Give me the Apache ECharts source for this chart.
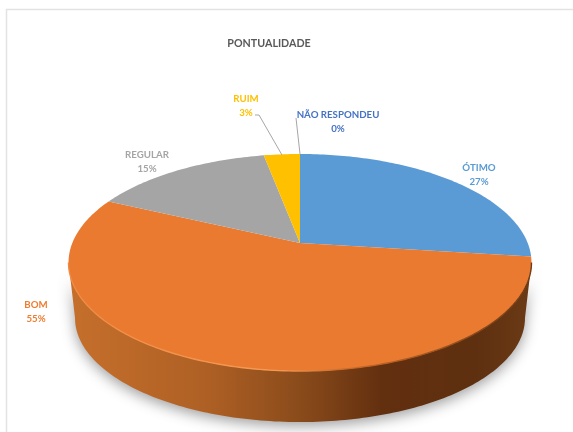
<!DOCTYPE html>
<html>
<head>
<meta charset="utf-8">
<style>html,body{margin:0;padding:0;background:#fff}#c{width:573px;height:432px}</style>
<script src="https://cdn.jsdelivr.net/npm/echarts@6/dist/echarts.min.js"></script>
</head>
<body>
<div id="c"></div>
<script>
const categories = ['ÓTIMO', 'BOM', 'REGULAR', 'RUIM', 'NÃO RESPONDEU'];
const values = [27, 55, 15, 3, 0];
const titleText = 'PONTUALIDADE';

const colors = ['#5B9BD5', '#E97A2F', '#A5A5A5', '#FFC000', '#4472C4'];
const labelColors = ['#5B9BD5', '#ED7D31', '#A5A5A5', '#FFC000', '#4472C4'];
const labelAt = [[479, 175], [36, 312], [147, 162], [246, 106], [338, 122]];
const leaders = [null, null, null, [[255, 115], [259, 115], [282, 155]], [[296, 118], [300, 154]]];
const FONT = 'bold 9.7px Lato, "Noto Sans", sans-serif';

// Tilted-disc projection
const view = { cx: 300, apexY: 243, k: 0.18, sx: 227.7, sy: 105, ecy: 262.5, depthCy: 318, rxRatio: 225 / 231.5, ryRatio: 104 / 108.5 };
function topPoint(deg) {
  const t = deg * Math.PI / 180, a = Math.sin(t), b = Math.cos(t), w = 1 + view.k * b;
  return [view.cx + view.sx * a / w, view.apexY - view.sy * b / w];
}
function bottomPoint(deg) {
  const p = topPoint(deg);
  return [view.cx + (p[0] - view.cx) * view.rxRatio, view.depthCy + (p[1] - view.ecy) * view.ryRatio];
}
function arc(fn, from, to) {
  const pts = [];
  for (let d = from; d < to; d += 1) pts.push(fn(d));
  pts.push(fn(to));
  return pts;
}
const frontFrom = 180 - Math.acos(view.k) * 180 / Math.PI;
const frontTo = 360 - frontFrom;
const total = values.reduce((s, v) => s + v, 0);

function renderSlice(params, api) {
  const i = params.dataIndex;
  const value = api.value(1);
  let start = 0;
  for (let j = 0; j < i; j++) start += values[j];
  const from = start / total * 360, to = (start + value) / total * 360;
  const children = [];
  if (value > 0) {
    const wf = Math.max(from, frontFrom), wt = Math.min(to, frontTo);
    if (wt > wf) {
      children.push({
        type: 'polygon', z2: 1,
        shape: { points: arc(topPoint, wf, wt).concat(arc(bottomPoint, wf, wt).reverse()) },
        style: {
          fill: new echarts.graphic.LinearGradient(0, 0, 1, 0, [
            { offset: 0, color: '#C66F2C' },
            { offset: 0.3, color: '#AE6024' },
            { offset: 0.5, color: '#8A4B1B' },
            { offset: 0.68, color: '#622F0F' },
            { offset: 0.88, color: '#5E3010' },
            { offset: 1, color: '#6C3A15' }
          ]),
          shadowBlur: 14, shadowColor: 'rgba(0,0,0,0.38)', shadowOffsetY: 4
        }
      });
      children.push({
        type: 'polyline', z2: 3,
        shape: { points: arc(topPoint, wf, wt) },
        style: {
          fill: null, lineWidth: 1.4,
          stroke: new echarts.graphic.LinearGradient(0, 0, 1, 0, [
            { offset: 0, color: '#F08A42' },
            { offset: 0.45, color: '#F59A55' },
            { offset: 0.6, color: '#C96A28' },
            { offset: 1, color: '#6E3A14' }
          ])
        }
      });
    }
    children.push({
      type: 'polygon', z2: 2,
      shape: { points: [[view.cx, view.apexY]].concat(arc(topPoint, from, to)) },
      style: { fill: colors[i] }
    });
  }
  if (leaders[i]) {
    children.push({
      type: 'polyline', z2: 4, shape: { points: leaders[i] },
      style: { fill: null, stroke: '#A6A6A6', lineWidth: 1 }
    });
  }
  children.push({
    type: 'text', z2: 5, x: labelAt[i][0], y: labelAt[i][1],
    style: {
      text: api.value(2) + '\n' + value + '%',
      fill: labelColors[i], font: FONT, lineHeight: 14,
      align: 'center', verticalAlign: 'middle'
    }
  });
  return { type: 'group', children };
}

const chart = echarts.init(document.getElementById('c'), null, { renderer: 'canvas' });
chart.setOption({
  animation: false,
  backgroundColor: '#fff',
  title: {
    text: titleText, left: 264, top: 33, textAlign: 'center',
    textStyle: { color: '#595959', fontFamily: 'Lato, "Noto Sans", sans-serif', fontWeight: 'bold', fontSize: 10.7 }
  },
  graphic: [{
    type: 'polyline', z: -1, silent: true,
    shape: { points: [[6.5, 432], [6.5, 9.5], [573, 9.5]] },
    style: { fill: null, stroke: '#E3E3E3', lineWidth: 1.5 }
  }],
  series: [{
    type: 'custom',
    coordinateSystem: 'none',
    silent: true,
    renderItem: renderSlice,
    encode: { value: 1 },
    data: categories.map((c, i) => [i, values[i], c])
  }]
});
</script>
</body>
</html>
